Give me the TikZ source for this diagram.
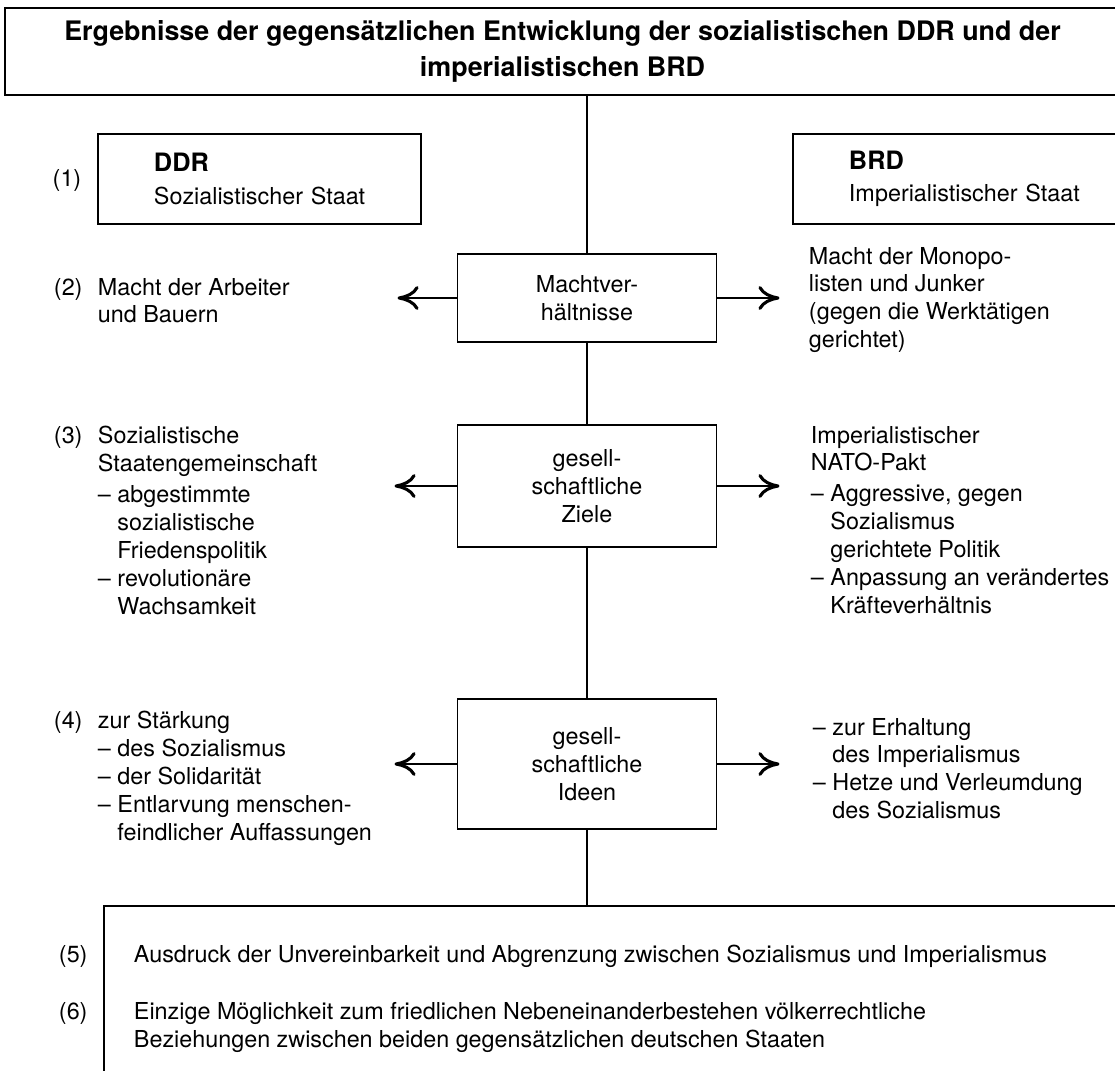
\documentclass[tikz,border=0pt]{standalone}
\usepackage{fontspec}
\setmainfont{TeX Gyre Heros}
\usetikzlibrary{arrows.meta,positioning}
\newcommand{\pxu}{0.025cm}
\newcommand{\einr}{\phantom{– }}
\begin{document}
\begin{tikzpicture}[x=\pxu,y=-\pxu,line width=1.4pt,
    font=\fontsize{16.6}{19.9}\selectfont,
    kasten/.style={draw,minimum width=259*\pxu,align=center,inner sep=0pt},
    staat/.style={draw,anchor=north west,minimum height=90*\pxu,align=left,inner xsep=56*\pxu},
    seite/.style={anchor=north west,align=left,inner sep=0pt},
    nr/.style={anchor=north west,inner sep=0pt},
    pfeil/.style={-{Computer Modern Rightarrow[length=15pt,width=17pt,line width=2.2pt]}}]
    \useasboundingbox (0,0) rectangle (1115,1070);
    \clip (0,0) rectangle (1115,1070);
    \node[kasten,minimum width=1115*\pxu,minimum height=87*\pxu,
        font=\fontsize{19.1}{25.6}\selectfont\bfseries] (titel) at (562.5,51.5)
        {Ergebnisse der gegensätzlichen Entwicklung der sozialistischen DDR und der\\imperialistischen BRD};
    \node[staat,text width=211*\pxu] (ddr) at (97,133) {{\fontsize{18}{20}\selectfont\bfseries DDR}\\[3pt]Sozialistischer~Staat};
    \node[staat,text width=230*\pxu] (brd) at (792,133) {{\fontsize{18}{20}\selectfont\bfseries BRD}\\[3pt]Imperialistischer~Staat};
    \node (nr1) at (67,180) {(1)};
    \node[kasten,minimum height=88*\pxu] (macht) at (587,298) {Machtver-\\hältnisse};
    \node[kasten,minimum height=122*\pxu] (ziele) at (587,486) {gesell-\\schaftliche\\Ziele};
    \node[kasten,minimum height=130*\pxu] (ideen) at (587,764) {gesell-\\schaftliche\\Ideen};
    \node[draw,anchor=north west,minimum width=1100*\pxu,minimum height=250*\pxu,inner sep=0pt] (folge) at (103,905) {};
    \draw (titel.south -| macht.north) -- (macht.north);
    \draw (macht.south) -- (ziele.north);
    \draw (ziele.south) -- (ideen.north);
    \draw (ideen.south) -- (ideen.south |- folge.north);
    \coordinate[left=59*\pxu of macht.west] (machtL);
    \coordinate[right=62*\pxu of macht.east] (machtR);
    \coordinate[left=62*\pxu of ziele.west] (zieleL);
    \coordinate[right=62*\pxu of ziele.east] (zieleR);
    \coordinate[left=62*\pxu of ideen.west] (ideenL);
    \coordinate[right=62*\pxu of ideen.east] (ideenR);
    \draw[pfeil] (macht.west) -- (machtL);
    \draw[pfeil] (macht.east) -- (machtR);
    \draw[pfeil] (ziele.west) -- (zieleL);
    \draw[pfeil] (ziele.east) -- (zieleR);
    \draw[pfeil] (ideen.west) -- (ideenL);
    \draw[pfeil] (ideen.east) -- (ideenR);
    \node[nr] (nr2) at (53,277) {(2)};
    \node[seite] (arbeiter) at (97,277) {Macht der Arbeiter\\und Bauern};
    \node[seite] (monopol) at (808,246) {Macht der Monopo-\\listen und Junker\\(gegen die Werktätigen\\gerichtet)};
    \node[nr] (nr3) at (53,425) {(3)};
    \node[seite] (gemeinschaft) at (97,425) {Sozialistische\\Staatengemeinschaft\\[2pt]
        – abgestimmte\\\einr sozialistische\\\einr Friedenspolitik\\– revolutionäre\\\einr Wachsamkeit};
    \node[seite] (nato) at (810,425) {Imperialistischer\\NATO-Pakt\\[2pt]
        – Aggressive, gegen\\\einr Sozialismus\\\einr gerichtete Politik\\– Anpassung an verändertes\\\einr Kräfteverhältnis};
    \node[nr] (nr4) at (53,710) {(4)};
    \node[seite] (staerkung) at (97,710) {zur Stärkung\\– des Sozialismus\\– der Solidarität\\– Entlarvung menschen-\\\einr feindlicher Auffassungen};
    \node[seite] (erhaltung) at (812,717) {– zur Erhaltung\\\einr des Imperialismus\\– Hetze und Verleumdung\\\einr des Sozialismus};
    \node[nr] (nr5) at (58,944) {(5)};
    \node[seite] (ausdruck) at (133,944) {Ausdruck der Unvereinbarkeit und Abgrenzung zwischen Sozialismus und Imperialismus};
    \node[nr] (nr6) at (58,1001) {(6)};
    \node[seite] (moeglichkeit) at (133,1001) {Einzige Möglichkeit zum friedlichen Nebeneinanderbestehen völkerrechtliche\\Beziehungen zwischen beiden gegensätzlichen deutschen Staaten};
\end{tikzpicture}
\end{document}
